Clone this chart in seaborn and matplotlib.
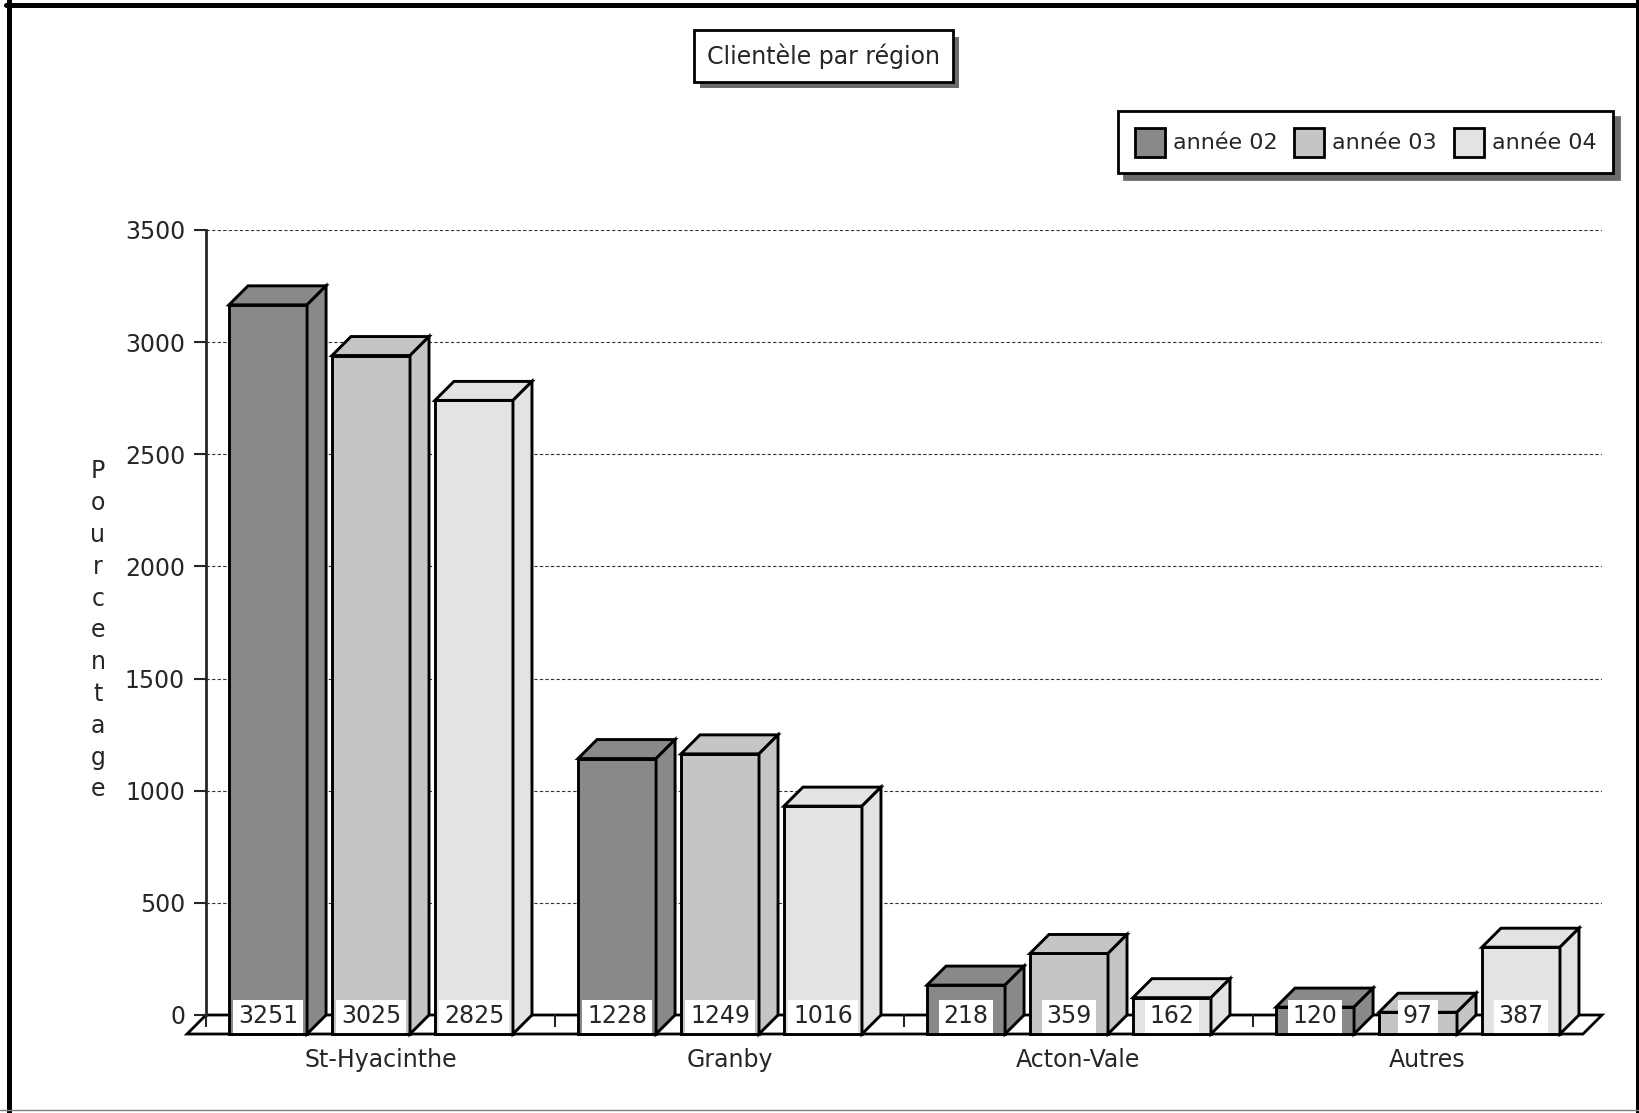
#Clientele par region - 3D-look grouped bar chart built on a seaborn barplot

# Load Packages=====================================================================================
import numpy as np
import pandas as pd
import seaborn as sns
import matplotlib.pyplot as plt
import matplotlib.patheffects as pe
from matplotlib.patches import Polygon
from matplotlib.lines import Line2D


# Data==============================================================================================
regions = ['St-Hyacinthe', 'Granby', 'Acton-Vale', 'Autres']
years = ['année 02', 'année 03', 'année 04']
annee_02 = [3251, 1228, 218, 120]
annee_03 = [3025, 1249, 359, 97]
annee_04 = [2825, 1016, 162, 387]
year_colors = ['#898989', '#c5c5c5', '#e3e3e3']
y_ticks = [0, 500, 1000, 1500, 2000, 2500, 3000, 3500]

df = pd.DataFrame({'region': regions * 3,
                   'annee': np.repeat(years, len(regions)),
                   'clients': annee_02 + annee_03 + annee_04})


# Figure============================================================================================
sns.set_style('white')
plt.rcParams['font.family'] = ['DejaVu Sans']
plt.rcParams['font.size'] = 17

W, H = 1640, 1113
fig = plt.figure(figsize=(W / 100, H / 100), dpi=100)
#axes = back plane of the box
ax = fig.add_axes([206 / W, 1 - 1015 / H, 1396 / W, 785 / H])

sns.barplot(data=df, x='region', y='clients', hue='annee', order=regions, hue_order=years,
            palette=year_colors, saturation=1, width=0.885, gap=0.242, errorbar=None,
            edgecolor='black', linewidth=2.1, ax=ax)
ax.set_xlim(-0.5, len(regions) - 0.5)
ax.set_ylim(y_ticks[0], y_ticks[-1])

#depth of the fake 3D, in data units
depth_px = 19
dx = depth_px / (ax.bbox.width / len(regions))
dy = depth_px / (ax.bbox.height / y_ticks[-1])

#floor
x_lo, x_hi = ax.get_xlim()
ax.add_patch(Polygon([(x_lo - dx, -dy), (x_lo, 0), (x_hi, 0), (x_hi - dx, -dy)],
                     fc='white', ec='black', lw=2, clip_on=False, zorder=0.3))

#turn each bar into a box: front face shifted down-left, add top and side faces
for cont, col in zip(ax.containers, year_colors):
    for bar, val in zip(cont.patches, cont.datavalues):
        x0, w, h = bar.get_x(), bar.get_width(), bar.get_height()
        xf, xb = x0 - dx / 2, x0 + dx / 2
        bar.set_x(xf)
        bar.set_y(-dy)
        bar.set_clip_on(False)
        top = Polygon([(xf, h - dy), (xf + w, h - dy), (xb + w, h), (xb, h)],
                      fc=col, ec='black', lw=2.1, clip_on=False, zorder=2)
        side = Polygon([(xf + w, -dy), (xb + w, 0), (xb + w, h), (xf + w, h - dy)],
                       fc=col, ec='black', lw=2.1, clip_on=False, zorder=2)
        ax.add_patch(top)
        ax.add_patch(side)
        ax.annotate(f'{val:.0f}', xy=(xf + w / 2, -dy), xytext=(0, 4),
                    textcoords='offset points', ha='center', va='bottom', fontsize=17,
                    bbox=dict(boxstyle='square,pad=0.2', fc='white', ec='none'),
                    zorder=5, annotation_clip=False)

#axes styling
ax.set_axisbelow(True)
ax.yaxis.grid(True, linestyle=(0, (3, 2)), lw=0.8, color='0.2')
ax.xaxis.grid(False)
sns.despine(ax=ax, left=False, bottom=True)
ax.spines['left'].set_bounds(y_ticks[0], y_ticks[-1])
ax.spines['left'].set_linewidth(2)
ax.set_yticks(y_ticks)
ax.tick_params(axis='y', left=True, length=8.6, width=1.5, pad=6.5, labelsize=17)
ax.tick_params(axis='x', which='major', length=0, pad=24, labelsize=17)
ax.set_xticks([-0.5, 0.5, 1.5, 2.5], minor=True)
ax.tick_params(axis='x', which='minor', bottom=True, length=8.6, width=1.5, direction='out')

ax.set_xlabel('')
ax.set_ylabel('\n'.join('Pourcentage'), rotation=0, linespacing=1.41,
              ha='center', va='center', fontsize=17)
ax.yaxis.set_label_coords(-0.0774, 0.49)

#legend
sns.move_legend(ax, 'upper right', bbox_to_anchor=(1613 / W, 1 - 111 / H),
                bbox_transform=fig.transFigure, ncol=3, title=None, frameon=True,
                fancybox=False, edgecolor='black', framealpha=1,
                shadow={'ox': 4, 'oy': -4.5, 'color': '0.42', 'alpha': 1},
                fontsize=16, handlelength=1.35, handleheight=1.62, handletextpad=0.36,
                columnspacing=0.75, borderpad=0.75, borderaxespad=0)
leg = ax.get_legend()
leg.get_frame().set_linewidth(2)
for hnd in leg.legend_handles:
    hnd.set_edgecolor('black')
    hnd.set_linewidth(2)

#title box with shadow
t = fig.text(823.5 / W, 1 - 56 / H, 'Clientèle par région', ha='center', va='center',
             fontsize=17, bbox=dict(boxstyle='square,pad=0.55', fc='white', ec='black', lw=2))
t.get_bbox_patch().set_path_effects([pe.SimplePatchShadow(offset=(4, -4.5), shadow_rgbFace='0.42',
                                                          alpha=1), pe.Normal()])

#outer frame
fig.add_artist(Line2D([9 / W, 9 / W], [0, 1], transform=fig.transFigure, lw=3.6, color='black'))
fig.add_artist(Line2D([6 / W, 1], [1 - 4.5 / H, 1 - 4.5 / H], transform=fig.transFigure,
                      lw=3.6, color='black'))
fig.add_artist(Line2D([1 - 2 / W, 1 - 2 / W], [0, 1], transform=fig.transFigure, lw=3.6,
                      color='black'))
fig.add_artist(Line2D([0, 1], [3 / H, 3 / H], transform=fig.transFigure, lw=1, color='0.5'))

fig.savefig('out.png', dpi=100)
plt.close()
